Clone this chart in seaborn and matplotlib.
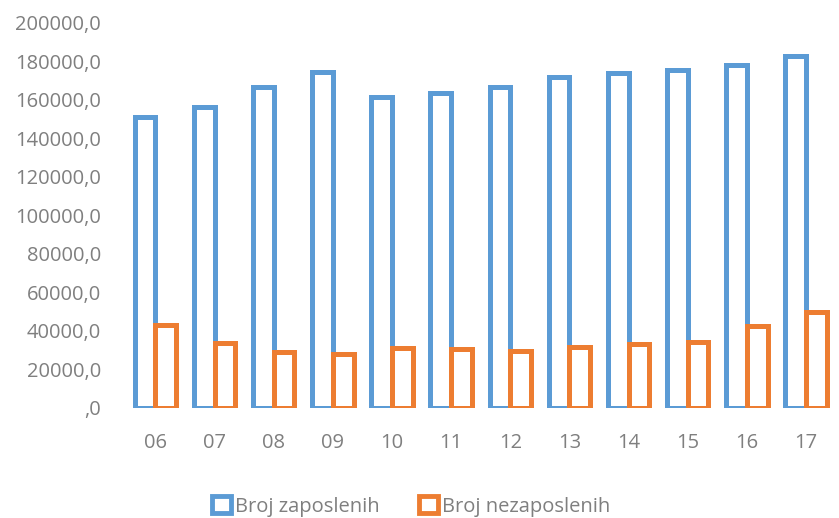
import numpy as np
import pandas as pd
import matplotlib
matplotlib.use("Agg")
import matplotlib.pyplot as plt
import seaborn as sns
from matplotlib.patches import Patch
from matplotlib.ticker import FuncFormatter

godine = ["06", "07", "08", "09", "10", "11", "12", "13", "14", "15", "16", "17"]
zaposleni = [151000, 156600, 166500, 174600, 161800, 163400,
             166900, 171700, 173800, 175800, 178100, 182600]
nezaposleni = [43000, 33900, 29000, 28000, 31400, 30400,
               29700, 31600, 33000, 34200, 42500, 50100]
serije = ["Broj zaposlenih", "Broj nezaposlenih"]
boje = ["#5B9BD5", "#ED7D31"]

df = pd.DataFrame({
    "godina": godine * 2,
    "vrijednost": zaposleni + nezaposleni,
    "serija": [serije[0]] * len(godine) + [serije[1]] * len(godine),
})

sns.set_style("white")
plt.rcParams["font.family"] = ["Open Sans", "DejaVu Sans"]
siva = "#7F7F7F"

fig = plt.figure(figsize=(8.39, 5.18), dpi=100)
ax = fig.add_axes([0.150, 0.2124, 0.846, 0.7432])

sns.barplot(data=df, x="godina", y="vrijednost", hue="serija",
            palette=boje, fill=False, linewidth=3.6, width=0.7,
            gap=0, ax=ax, legend=False)

ax.set_ylim(0, 200000)
ax.set_yticks(np.arange(0, 200001, 20000))


def fmt(v, pos):
    if v == 0:
        return ",0"
    return f"{v:.1f}".replace(".", ",")


ax.yaxis.set_major_formatter(FuncFormatter(fmt))
ax.set_xlim(-0.5, len(godine) - 0.5)
ax.set_xlabel("")
ax.set_ylabel("")
for s in ax.spines.values():
    s.set_visible(False)
ax.tick_params(axis="both", length=0, colors=siva, labelsize=14.5)
ax.tick_params(axis="x", pad=18)
ax.tick_params(axis="y", pad=18)

handles = [Patch(facecolor="white", edgecolor=c, linewidth=3.5, label=l)
           for c, l in zip(boje, serije)]
fig.legend(handles=handles, loc="center", bbox_to_anchor=(0.49, 0.022),
           ncol=2, frameon=False, fontsize=14.5, labelcolor=siva,
           handlelength=0.9, handleheight=0.9, handletextpad=0.2,
           columnspacing=2.0)

fig.savefig("out.png", dpi=100)
